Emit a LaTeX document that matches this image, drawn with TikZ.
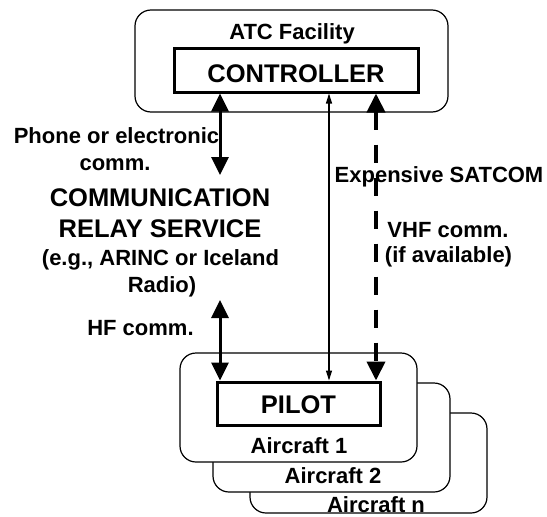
\documentclass[tikz,border=0pt]{standalone}
\usepackage{fontspec}
\setmainfont{Liberation Sans}
\usetikzlibrary{arrows.meta}
\begin{document}
\begin{tikzpicture}[x=1pt,y=-1pt,
  small/.style={font=\fontsize{22}{26}\selectfont\bfseries, inner sep=0pt, anchor=base},
  big/.style={font=\fontsize{25.5}{30}\selectfont\bfseries, inner sep=0pt, anchor=base},
  outerbox/.style={draw, line width=1.2pt, rounded corners=16pt, fill=white},
  innerbox/.style={draw, line width=3pt, fill=white, inner sep=0pt, font=\fontsize{25.5}{30}\selectfont\bfseries},
  thickarrow/.style={line width=3pt, {Triangle[length=18pt,width=17pt]}-{Triangle[length=18pt,width=17pt]}},
  thinarrow/.style={line width=1.2pt, {Triangle[length=10pt,width=6pt]}-{Triangle[length=10pt,width=6pt]}},
  dasharrow/.style={line width=4pt, dash pattern=on 18pt off 15pt, {Triangle[length=19pt,width=18pt]}-{Triangle[length=19pt,width=18pt]}}
]
\fill[white] (0,0) rectangle (547,517);
\useasboundingbox (0,0) rectangle (547,517);

% ATC facility
\draw[outerbox] (135,10) rectangle (448,112);
\node[small] (atc) at (292,39) {ATC Facility};
\node[innerbox, minimum width=244pt, minimum height=43.5pt, text height=24pt, text depth=0pt] (ctrl) at (296,70.25) {CONTROLLER};

% aircraft stack
\draw[outerbox] (250,413) rectangle (487,513);
\draw[outerbox] (213,383) rectangle (450,492);
\draw[outerbox] (180,353) rectangle (417,462);
\node[small] (acn) at (376,512) {Aircraft n};
\node[small] (ac2) at (333,483) {Aircraft 2};
\node[small] (ac1) at (299,453) {Aircraft 1};
\node[innerbox, minimum width=163pt, minimum height=43pt, text height=19pt, text depth=0pt] (pilot) at (298.5,403.5) {PILOT};

% relay service text
\node[small] (phone) at (116.5,143) {Phone or electronic};
\node[small] (phone2) at (115,170) {comm.};
\node[big] (relay1) at (160,206) {COMMUNICATION};
\node[big] (relay2) at (160,237) {RELAY SERVICE};
\node[small] (relay3) at (160.5,265) {(e.g., ARINC or Iceland};
\node[small] (relay4) at (162,292) {Radio)};
\node[small] (hf) at (140.5,335) {HF comm.};

% right labels
\node[small] (sat) at (439,182) {Expensive SATCOM};
\node[small] (vhf1) at (448,237) {VHF comm.};
\node[small] (vhf2) at (448.5,262) {(if available)};

% connector endpoints
\coordinate (relayTop) at (220,175);
\coordinate (relayBot) at (220,300);
\coordinate (satX) at (329,0);
\coordinate (vhfX) at (376,0);

\draw[thickarrow] (ctrl.south -| relayTop) -- (relayTop);
\draw[thickarrow] (relayBot) -- (pilot.north -| relayBot);
\draw[thinarrow] (ctrl.south -| satX) -- (pilot.north -| satX);
\draw[dasharrow] (ctrl.south -| vhfX) -- (pilot.north -| vhfX);
\end{tikzpicture}
\end{document}
